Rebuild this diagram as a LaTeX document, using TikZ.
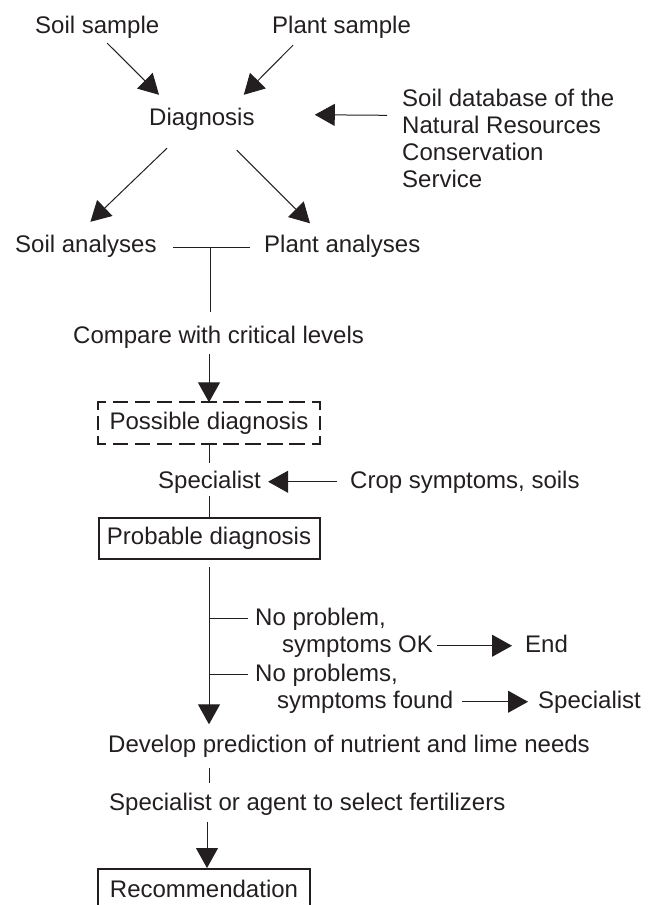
\documentclass[tikz,border=0pt]{standalone}
\usepackage{fontspec}
\setmainfont{Liberation Sans}
\usetikzlibrary{arrows.meta,calc}
\definecolor{ink}{HTML}{231F20}
\begin{document}
\begin{tikzpicture}[x=1pt,y=-1pt,
  txt/.style={inner sep=0pt,text height=17.5pt,text depth=5pt,font=\fontsize{24}{27}\selectfont,text=ink},
  ln/.style={draw=ink,line width=1pt},
  arr/.style={ln,-{Triangle[length=20pt,width=22pt]}},
  solidbox/.style={txt,draw=ink,line width=2pt,minimum width=221pt,minimum height=41pt},
  plainbox/.style={txt,minimum width=221pt,minimum height=41pt},
  hdash/.style={draw=ink,line width=2pt,line cap=rect,dash pattern=on 13.6pt off 8.5pt,dash phase=6.8pt},
  vdash/.style={draw=ink,line width=2pt,line cap=rect,dash pattern=on 12.5pt off 8pt,dash phase=6.25pt},
]
\useasboundingbox (0,0) rectangle (652,905);

% top
\node[txt,anchor=base west] (ss) at (35,33) {Soil sample};
\node[txt,anchor=base west] (ps) at (272,33) {Plant sample};
\node[txt,anchor=base west] (dg) at (149,125) {Diagnosis};
\node[inner sep=0pt,font=\fontsize{24}{27}\selectfont,text=ink,align=left,anchor=north west] (db) at (402,88.8) {Soil database of the\\Natural Resources\\Conservation\\Service};

\draw[arr] ($(ss.south)+(10,5)$) -- ($(dg.north west)+(10,-12.5)$);
\draw[arr] ($(ps.south west)+(21,7)$) -- ($(dg.north east)+(-11,-12.5)$);
\draw[arr] ($(db.west)+(-15,-23)$) -- ($(dg.east)+(60,-4)$);

% analyses
\node[txt,anchor=base west] (sa) at (15,252) {Soil analyses};
\node[txt,anchor=base west] (pa) at (264,252) {Plant analyses};
\draw[arr] ($(dg.south west)+(18,18)$) -- ($(sa.north)+(4.5,-12.5)$);
\draw[arr] ($(dg.south east)+(-18,20)$) -- ($(pa.north west)+(46,-11)$);

\node[txt,anchor=base west] (cmp) at (73,343) {Compare with critical levels};
\coordinate (brm) at ($(sa.east)!0.5!(pa.west)+(0,2)$);
\draw[ln] ($(sa.east)+(16,2)$) -- ($(pa.west)+(-14,2)$);
\draw[ln] (brm) -- ($(brm |- cmp.north)+(0,-13.5)$);

% possible diagnosis (dashed box, L-shaped corners)
\node[plainbox] (pd) at (209,423) {Possible diagnosis};
\draw[hdash] (pd.north west) -- (pd.north east);
\draw[hdash] (pd.south west) -- (pd.south east);
\draw[vdash] (pd.north west) -- (pd.south west);
\draw[vdash] (pd.north east) -- (pd.south east);
\draw[arr] ($(pd.north |- cmp.south)+(0,6)$) -- (pd.north);

\node[txt,anchor=base west] (sp1) at (158,488) {Specialist};
\node[txt,anchor=base west] (crop) at (350,488) {Crop symptoms, soils};
\draw[ln] (pd.south) -- ($(pd.south |- sp1.north)+(0,-7)$);
\draw[arr] ($(crop.west)+(-13,0)$) -- ($(sp1.east)+(7,0)$);

\node[solidbox] (prd) at (209,538.5) {Probable diagnosis};
\draw[ln] ($(prd.north |- sp1.south)+(0,3)$) -- (prd.north);

% branches
\node[txt,anchor=base west] (dev) at (108,752) {Develop prediction of nutrient and lime needs};
\draw[arr] ($(prd.south)+(0,7)$) -- ($(prd.south |- dev.north)+(0,-10)$);

\node[txt,anchor=base west] (np1) at (255,625) {No problem,};
\draw[ln] (prd.south |- np1.west) -- ($(np1.west)+(-7,0)$);
\node[txt,anchor=base west] (sok) at (282,652) {symptoms OK};
\node[txt,anchor=base west] (endn) at (525,652) {End};
\draw[arr] ($(sok.east)+(4,0)$) -- ($(endn.west)+(-13,0)$);

\node[txt,anchor=base west] (np2) at (255,681) {No problems,};
\draw[ln] (prd.south |- np2.west) -- ($(np2.west)+(-7,0)$);
\node[txt,anchor=base west] (sfd) at (277,708) {symptoms found};
\node[txt,anchor=base west] (sp2) at (538,708) {Specialist};
\draw[arr] ($(sfd.east)+(9,0)$) -- ($(sp2.west)+(-10,0)$);

% bottom
\node[txt,anchor=base west] (sel) at (109,810) {Specialist or agent to select fertilizers};
\draw[ln] ($(prd.south |- dev.south)+(0,11)$) -- ($(prd.south |- sel.north)+(0,-9.5)$);
\node[solidbox,anchor=north,minimum width=212pt,minimum height=44pt] (rec) at (204,868) {Recommendation};
\draw[arr] ($(rec.north |- sel.south)+(3,7)$) -- ($(rec.north)+(3,0)$);
\end{tikzpicture}
\end{document}
